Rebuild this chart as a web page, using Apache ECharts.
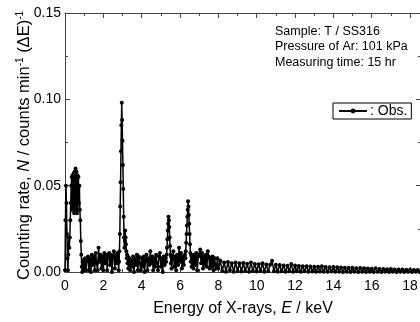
<!DOCTYPE html>
<html>
<head>
<meta charset="utf-8">
<script src="https://cdn.jsdelivr.net/npm/echarts@6/dist/echarts.min.js"></script>
<style>html,body{margin:0;padding:0;background:#fff}#c{width:420px;height:322px}</style>
</head>
<body>
<div id="c"></div>
<script>
// ---- data: [energy keV, counts min^-1 (dE)^-1] ----
const lowPeak = [
[0.000,0.001],[0.025,0.030],[0.050,0.050],[0.075,0.040],[0.100,0.022],[0.125,0.008],[0.150,0.001],[0.175,0.010],
[0.200,0.020],[0.225,0.014],[0.250,0.020],[0.275,0.030],[0.300,0.040],[0.325,0.050],[0.350,0.055],[0.375,0.036],
[0.400,0.056],[0.425,0.036],[0.450,0.057],[0.475,0.034],[0.500,0.058],[0.525,0.036],[0.550,0.060],[0.575,0.038],
[0.600,0.058],[0.625,0.034],[0.650,0.056],[0.675,0.036],[0.700,0.055],[0.725,0.040],[0.750,0.050],[0.775,0.036],
[0.800,0.030],[0.825,0.018],[0.850,0.010],[0.875,0.003],[0.900,0.000],[0.925,0.006],[0.950,0.001],[0.975,0.007]
];
const background1 = [
[1.00,0.002],[1.05,0.008],[1.10,0.001],[1.15,0.007],[1.20,0.009],[1.25,0.001],[1.30,0.008],[1.35,0.000],
[1.40,0.010],[1.45,0.004],[1.50,0.009],[1.55,0.001],[1.60,0.011],[1.65,0.005],[1.70,0.001],[1.75,0.014],
[1.80,0.006],[1.85,0.010],[1.90,0.002],[1.95,0.009],[2.00,0.001],[2.05,0.011],[2.10,0.005],[2.15,0.010],
[2.20,0.001],[2.25,0.009],[2.30,0.011],[2.35,0.004],[2.40,0.010],[2.45,0.000],[2.50,0.009],[2.55,0.012],
[2.60,0.002],[2.65,0.010],[2.70,0.005],[2.75,0.011],[2.80,0.001]
];
const argonPeak = [
[2.82,0.006],[2.84,0.012],[2.86,0.022],[2.88,0.038],[2.90,0.052],[2.92,0.070],[2.94,0.085],[2.96,0.098],
[2.98,0.088],[3.00,0.076],[3.02,0.062],[3.04,0.048],[3.06,0.032],[3.08,0.020],[3.10,0.014],[3.12,0.018],
[3.14,0.024],[3.16,0.020],[3.18,0.016],[3.20,0.012],[3.22,0.008],[3.24,0.010],[3.26,0.005],[3.28,0.009],[3.30,0.002]
];
const background2 = [
[3.35,0.008],[3.40,0.001],[3.45,0.007],[3.50,0.003],[3.55,0.009],[3.60,0.000],[3.65,0.008],[3.70,0.004],
[3.75,0.010],[3.80,0.001],[3.85,0.009],[3.90,0.005],[3.95,0.001],[4.00,0.008],[4.05,0.003],[4.10,0.009],
[4.15,0.000],[4.20,0.007],[4.25,0.010],[4.30,0.001],[4.35,0.008],[4.40,0.004],[4.45,0.012],[4.50,0.005],
[4.55,0.009],[4.60,0.001],[4.65,0.008],[4.70,0.003],[4.75,0.010],[4.80,0.005],[4.85,0.001],[4.90,0.009],
[4.95,0.011],[5.00,0.003],[5.05,0.008],[5.10,0.000],[5.15,0.009],[5.20,0.004],[5.25,0.008]
];
const chromiumPeak = [
[5.28,0.006],[5.30,0.010],[5.32,0.014],[5.34,0.019],[5.36,0.024],[5.38,0.028],[5.40,0.032],[5.42,0.030],
[5.44,0.026],[5.46,0.020],[5.48,0.015],[5.50,0.010],[5.52,0.005],[5.54,0.009],[5.56,0.002]
];
const background3 = [
[5.60,0.008],[5.65,0.012],[5.70,0.003],[5.75,0.009],[5.80,0.001],[5.85,0.010],[5.90,0.004],[5.95,0.014],
[6.00,0.006],[6.05,0.011],[6.10,0.002],[6.15,0.009],[6.20,0.004],[6.25,0.010]
];
const ironPeak = [
[6.28,0.008],[6.30,0.012],[6.32,0.017],[6.34,0.022],[6.36,0.027],[6.38,0.032],[6.40,0.036],[6.42,0.041],
[6.44,0.038],[6.46,0.033],[6.48,0.028],[6.50,0.022],[6.52,0.016],[6.54,0.011],[6.56,0.006],[6.58,0.010],[6.60,0.003]
];
const background4 = [
[6.65,0.009],[6.70,0.002],[6.75,0.010],[6.80,0.004],[6.85,0.011],[6.90,0.001],[6.95,0.009],[7.00,0.010],
[7.05,0.013],[7.10,0.005],[7.15,0.011],[7.20,0.002],[7.25,0.009],[7.30,0.004],[7.35,0.010],[7.40,0.003],
[7.45,0.012],[7.50,0.009],[7.55,0.002],[7.60,0.008],[7.65,0.003],[7.70,0.009],[7.75,0.001],[7.80,0.008],
[7.85,0.004],[7.90,0.002],[7.95,0.008],[8.00,0.002]
];
const tail = [
[8.1,0.0065],[8.2,0.0006],[8.3,0.0055],[8.4,0.0002],[8.5,0.0058],[8.6,0.0010],[8.7,0.0050],[8.8,0.0002],
[8.9,0.0055],[9.0,0.0006],[9.1,0.0050],[9.2,0.0003],[9.3,0.0052],[9.4,0.0006],[9.5,0.0048],[9.6,0.0002],
[9.7,0.0055],[9.8,0.0006],[9.9,0.0047],[10.0,0.0003],[10.1,0.0045],[10.2,0.0006],[10.3,0.0050],[10.4,0.0002],
[10.5,0.0044],[10.6,0.0005],[10.7,0.0042],[10.8,0.0065],[10.9,0.0005],[11.0,0.0042],[11.1,0.0002],[11.2,0.0040],
[11.3,0.0005],[11.4,0.0038],[11.5,0.0002],[11.6,0.0036],[11.7,0.0004],[11.8,0.0047],[11.9,0.0002],[12.0,0.0038],
[12.1,0.0004],[12.2,0.0035],[12.3,0.0001],[12.4,0.0034],[12.5,0.0004],[12.6,0.0033],[12.7,0.0001],[12.8,0.0032],
[12.9,0.0003],[13.0,0.0031],[13.1,0.0001],[13.2,0.0030],[13.3,0.0003],[13.4,0.0033],[13.5,0.0001],[13.6,0.0029],
[13.7,0.0001],[13.8,0.0028],[13.9,0.0003],[14.0,0.0029],[14.1,0.0001],[14.2,0.0027],[14.3,0.0002],[14.4,0.0026],
[14.5,0.0000],[14.6,0.0025],[14.7,0.0002],[14.8,0.0024],[14.9,0.0000],[15.0,0.0025],[15.1,0.0002],[15.2,0.0022],
[15.3,0.0000],[15.4,0.0023],[15.5,0.0002],[15.6,0.0021],[15.7,0.0000],[15.8,0.0020],[15.9,0.0002],[16.0,0.0019],
[16.1,0.0000],[16.2,0.0021],[16.3,0.0001],[16.4,0.0018],[16.5,0.0000],[16.6,0.0017],[16.7,0.0001],[16.8,0.0016],
[16.9,0.0000],[17.0,0.0017],[17.1,0.0001],[17.2,0.0015],[17.3,0.0000],[17.4,0.0014],[17.5,0.0001],[17.6,0.0015],
[17.7,0.0000],[17.8,0.0013],[17.9,0.0001],[18.0,0.0013],[18.1,0.0000],[18.2,0.0012],[18.3,0.0001],[18.4,0.0012],
[18.5,0.0000],[18.6,0.0011]
];
const xTicks = [0, 2, 4, 6, 8, 10, 12, 14, 16, 18];
const yTicks = [0.00, 0.05, 0.10, 0.15];
const notes = ['Sample: T / SS316', 'Pressure of Ar: 101 kPa', 'Measuring time: 15 hr'];
const seriesName = ': Obs.';

const spectrum = [].concat(lowPeak, background1, argonPeak, background2, chromiumPeak,
  background3, ironPeak, background4, tail);

const FONT = '"Liberation Sans", Arial, sans-serif';
const AX = '#444';
const chart = echarts.init(document.getElementById('c'), null, {renderer: 'canvas'});

function xAxisCfg(pos, labels) {
  return {
    type: 'value', position: pos, min: 0, max: 18.57, interval: 2,
    axisLine: {show: true, onZero: false, lineStyle: {color: AX, width: 1}},
    axisTick: {show: true, inside: true, length: 5, lineStyle: {color: AX}},
    minorTick: {show: true, splitNumber: 2, length: 3, lineStyle: {color: AX}},
    splitLine: {show: false},
    axisLabel: {show: labels, color: '#000', fontSize: 14, fontFamily: FONT, margin: 7,
      showMaxLabel: false, hideOverlap: false,
      formatter: v => xTicks.indexOf(v) >= 0 ? String(v) : ''}
  };
}
function yAxisCfg(pos, labels) {
  return {
    type: 'value', position: pos, min: 0, max: 0.15, interval: 0.05,
    axisLine: {show: true, onZero: false, lineStyle: {color: AX, width: 1}},
    axisTick: {show: true, inside: true, length: 5, lineStyle: {color: AX}},
    minorTick: {show: true, splitNumber: 2, length: 3, lineStyle: {color: AX}},
    splitLine: {show: false},
    axisLabel: {show: labels, color: '#000', fontSize: 14, fontFamily: FONT, margin: 4,
      formatter: v => {
        const t = yTicks.find(k => Math.abs(k - v) < 1e-9);
        return t === undefined ? '' : t.toFixed(2);
      }}
  };
}

const xMain = xAxisCfg('bottom', true);
xMain.name = '{n|Energy of X-rays, }{i|E}{n| / keV}';
xMain.nameLocation = 'middle';
xMain.nameGap = 29;
xMain.nameMoveOverlap = false;
xMain.nameTextStyle = {fontFamily: FONT, fontSize: 16, color: '#000',
  rich: {n: {fontFamily: FONT, fontSize: 16, color: '#000'},
         i: {fontFamily: FONT, fontSize: 16, color: '#000', fontStyle: 'italic'}}};

const yMain = yAxisCfg('left', true);
yMain.name = '{n|Counting rate, }{i|N}{n| / counts min}{s|-1}{n| (ΔE)}{s|-1}';
yMain.nameLocation = 'middle';
yMain.nameGap = 31;
yMain.nameRotate = 90;
yMain.nameMoveOverlap = false;
yMain.nameTextStyle = {fontFamily: FONT, fontSize: 16.5, color: '#000', padding: [0, 6, 0, 0],
  rich: {n: {fontFamily: FONT, fontSize: 16.5, color: '#000', lineHeight: 19},
         i: {fontFamily: FONT, fontSize: 16.5, color: '#000', fontStyle: 'italic', lineHeight: 19},
         s: {fontFamily: FONT, fontSize: 10, color: '#000', verticalAlign: 'top'}}};

chart.setOption({
  animation: false,
  backgroundColor: '#fff',
  grid: {left: 65, top: 13, width: 356, height: 259, containLabel: false, outerBoundsMode: 'none'},
  xAxis: [xMain, xAxisCfg('top', false)],
  yAxis: [yMain, yAxisCfg('right', false)],
  legend: {
    show: true, left: 333, top: 103, orient: 'horizontal',
    backgroundColor: '#fff', borderColor: '#000', borderWidth: 1, borderRadius: 0,
    padding: [1, 4, 1, 5], itemWidth: 28, itemHeight: 6, itemGap: 0,
    textStyle: {color: '#000', fontSize: 14, fontFamily: FONT, padding: [0, 0, 0, -2]},
    data: [seriesName]
  },
  graphic: notes.map((t, i) => ({
    type: 'text', left: 275, top: 25 + i * 15.5,
    style: {text: t, fill: '#000', font: '12.5px ' + FONT}
  })),
  series: [{
    name: seriesName, type: 'line', xAxisIndex: 0, yAxisIndex: 0,
    data: spectrum, symbol: 'circle', symbolSize: 4, showSymbol: true,
    lineStyle: {color: '#000', width: 1.5}, itemStyle: {color: '#000'},
    clip: true
  }]
});
</script>
</body>
</html>
